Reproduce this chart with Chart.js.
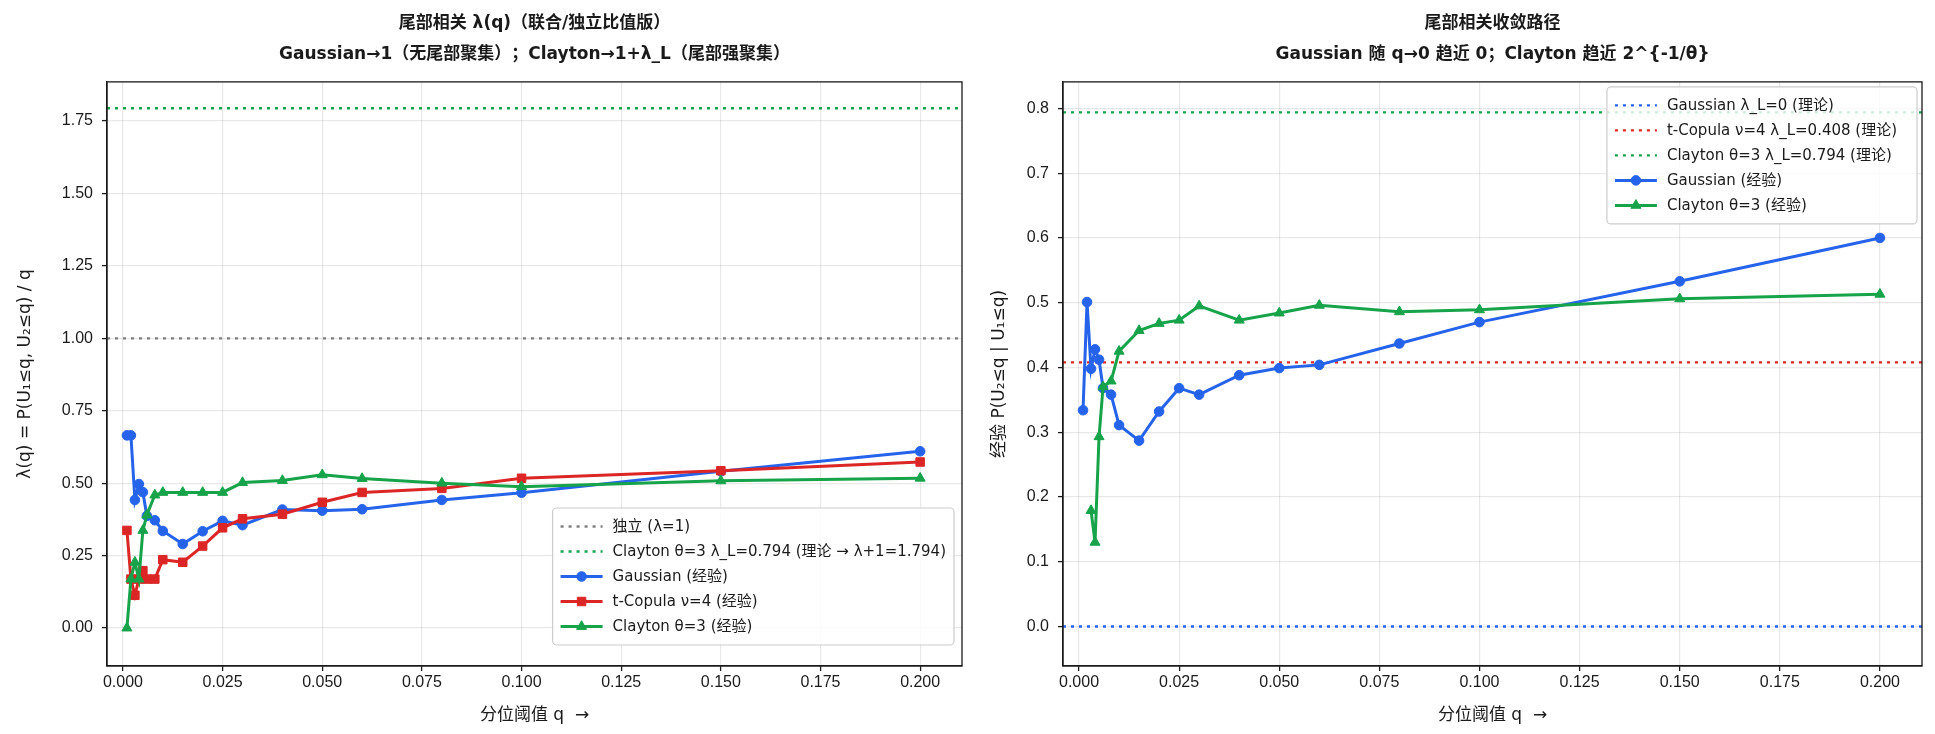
<!DOCTYPE html>
<html>
<head>
<meta charset="utf-8">
<script src="https://cdn.jsdelivr.net/npm/chart.js@4.4.1/dist/chart.umd.min.js"></script>
<style>
  html, body { margin: 0; padding: 0; background: #fff; }
  body { width: 1935px; height: 734px; position: relative; overflow: hidden; }
  #wrapL { position: absolute; left: 0; top: 0; }
  #wrapR { position: absolute; left: 985px; top: 0; }
</style>
</head>
<body>
<div id="wrapL"><canvas id="ratioChart" width="985" height="734"></canvas></div>
<div id="wrapR"><canvas id="convChart" width="950" height="734"></canvas></div>
<script>
/* ===================== DATA ===================== */
const Q = [0.001, 0.002, 0.003, 0.004, 0.005, 0.006, 0.008, 0.010, 0.015, 0.020,
           0.025, 0.030, 0.040, 0.050, 0.060, 0.080, 0.100, 0.150, 0.200];

// left: lambda(q) = P(U1<=q, U2<=q) / q
const GAUSS_RATIO   = [0.665, 0.665, 0.442, 0.497, 0.469, 0.387, 0.372, 0.335, 0.290, 0.334,
                       0.370, 0.355, 0.409, 0.405, 0.410, 0.442, 0.467, 0.541, 0.610];
const TCOP_RATIO    = [0.337, 0.169, 0.113, 0.169, 0.198, 0.169, 0.169, 0.236, 0.227, 0.283,
                       0.346, 0.377, 0.393, 0.434, 0.468, 0.482, 0.517, 0.543, 0.573];
const CLAYTON_RATIO = [0.000, 0.169, 0.227, 0.169, 0.337, 0.390, 0.459, 0.468, 0.468, 0.468,
                       0.468, 0.502, 0.509, 0.529, 0.516, 0.500, 0.488, 0.508, 0.517];

// right: P(U2<=q | U1<=q)
const GAUSS_COND   = [0.334, 0.501, 0.398, 0.428, 0.412, 0.368, 0.358, 0.311, 0.287, 0.332,
                      0.368, 0.358, 0.388, 0.399, 0.404, 0.437, 0.470, 0.533, 0.600];
const CLAYTON_COND = [null, null, 0.179, 0.130, 0.293, 0.370, 0.379, 0.425, 0.457, 0.468,
                      0.473, 0.495, 0.473, 0.484, 0.496, 0.486, 0.489, 0.506, 0.513];

// theory levels
const INDEP_LEVEL = 1;
const CLAYTON_RATIO_LEVEL = 1.794;
const GAUSS_LAMBDA_L = 0;
const TCOP_LAMBDA_L = 0.408;
const CLAYTON_LAMBDA_L = 0.794;

// axes
const X_MIN = -0.004, X_MAX = 0.2105;
const X_TICKS = [0, 0.025, 0.05, 0.075, 0.1, 0.125, 0.15, 0.175, 0.2];
const Y_LEFT_MIN = -0.131, Y_LEFT_MAX = 1.885;
const Y_LEFT_TICKS = [0, 0.25, 0.5, 0.75, 1, 1.25, 1.5, 1.75];
const Y_RIGHT_MIN = -0.061, Y_RIGHT_MAX = 0.841;
const Y_RIGHT_TICKS = [0, 0.1, 0.2, 0.3, 0.4, 0.5, 0.6, 0.7, 0.8];

/* ===================== STYLE ===================== */
const TICK_FONT = "'Liberation Sans', 'Noto Sans CJK SC', sans-serif";
const TEXT_FONT = "'DejaVu Sans', 'Noto Sans CJK SC', sans-serif";
const BLUE = "#2563eb", RED = "#dc2626", GREEN = "#16a34a", GRAY = "#7f7f7f";
const INK = "#1a1a1a";
const GRID = "rgba(0,0,0,0.09)";
const TICK_SIZE = 16, LEGEND_SIZE = 15, TITLE_SIZE = 17, AXIS_TITLE_SIZE = 17;

/* ===================== PLUGINS ===================== */
// full box round the plot area (matplotlib spines)
const frame = {
  id: "frame",
  afterDraw(chart) {
    const a = chart.chartArea, ctx = chart.ctx;
    ctx.save();
    ctx.strokeStyle = INK;
    ctx.lineWidth = 1.3;
    ctx.strokeRect(a.left, a.top, a.right - a.left, a.bottom - a.top);
    ctx.restore();
  }
};

// legend drawn inside the plot area
const insideLegend = {
  id: "insideLegend",
  afterDraw(chart, args, opts) {
    const ctx = chart.ctx, a = chart.chartArea;
    const sets = chart.data.datasets;
    ctx.save();
    ctx.font = `${LEGEND_SIZE}px ${TEXT_FONT}`;
    const textW = Math.max(...sets.map(d => ctx.measureText(d.label).width));
    const rowH = 25, padX = 8, padY = 6, handleW = 42, gap = 10;
    const w = padX + handleW + gap + textW + padX + opts.extra;
    const h = padY * 2 + rowH * sets.length;
    const x = a.right - opts.right - w;
    const y = opts.corner === "lower" ? a.bottom - opts.bottom - h : a.top + opts.top;

    ctx.beginPath();
    ctx.roundRect(x, y, w, h, 4);
    ctx.fillStyle = "rgba(255,255,255,0.8)";
    ctx.fill();
    ctx.strokeStyle = "#cccccc";
    ctx.lineWidth = 1.2;
    ctx.stroke();

    sets.forEach((d, i) => {
      const cy = y + padY + rowH * i + rowH / 2;
      const x0 = x + padX, x1 = x0 + handleW;
      ctx.beginPath();
      ctx.setLineDash(d.borderDash || []);
      ctx.strokeStyle = d.borderColor;
      ctx.lineWidth = d.borderWidth;
      ctx.moveTo(x0, cy);
      ctx.lineTo(x1, cy);
      ctx.stroke();
      ctx.setLineDash([]);
      if (d.pointRadius > 0) {
        ctx.fillStyle = d.borderColor;
        ctx.strokeStyle = d.borderColor;
        ctx.lineWidth = 1;
        Chart.helpers.drawPoint(ctx, { pointStyle: d.pointStyle, radius: d.pointRadius, rotation: 0, borderWidth: 1 },
          (x0 + x1) / 2, cy);
      }
      ctx.fillStyle = INK;
      ctx.textBaseline = "middle";
      ctx.textAlign = "left";
      ctx.fillText(d.label, x1 + gap, cy + 1);
    });
    ctx.restore();
  }
};

/* ===================== DATASETS ===================== */
function refLine(label, level, color, order) {
  return {
    label,
    data: [{ x: X_MIN, y: level }, { x: X_MAX, y: level }],
    borderColor: color,
    backgroundColor: color,
    borderWidth: 2.3,
    borderDash: [3, 5],
    pointRadius: 0,
    order
  };
}

function empLine(label, values, color, style, radius, order) {
  return {
    label,
    data: Q.map((q, i) => ({ x: q, y: values[i] })),
    borderColor: color,
    backgroundColor: color,
    borderWidth: 3,
    pointStyle: style,
    pointRadius: radius,
    pointBorderWidth: 1,
    tension: 0,
    order
  };
}

/* ===================== COMMON OPTIONS ===================== */
function chartOptions(cfg) {
  const tickFont = { family: TICK_FONT, size: TICK_SIZE };
  return {
    responsive: false,
    animation: false,
    events: [],
    layout: { padding: { left: 0, right: cfg.padRight, top: 0, bottom: 0 } },
    plugins: {
      legend: { display: false },
      tooltip: { enabled: false },
      title: {
        display: true,
        text: cfg.title,
        color: INK,
        fullSize: false,
        font: { family: TEXT_FONT, size: TITLE_SIZE, weight: "bold", lineHeight: 1.82 },
        padding: { top: 8, bottom: 12 }
      },
      insideLegend: cfg.legend
    },
    scales: {
      x: {
        type: "linear",
        min: X_MIN,
        max: X_MAX,
        afterBuildTicks: s => { s.ticks = X_TICKS.map(v => ({ value: v })); },
        afterFit: s => { s.height = 68; },
        ticks: {
          color: INK, font: tickFont, padding: 2, autoSkip: false, maxRotation: 0,
          callback: v => v.toFixed(3)
        },
        grid: { color: GRID, lineWidth: 1.2, tickColor: INK, tickLength: 5, tickWidth: 1.3 },
        border: { color: INK, width: 1.3 },
        title: {
          display: true, text: "分位阈值 q  →", color: INK,
          font: { family: TEXT_FONT, size: AXIS_TITLE_SIZE }, padding: { top: 8, bottom: 8 }
        }
      },
      y: {
        type: "linear",
        min: cfg.yMin,
        max: cfg.yMax,
        afterBuildTicks: s => { s.ticks = cfg.yTicks.map(v => ({ value: v })); },
        afterFit: s => { s.width = cfg.yWidth; },
        ticks: {
          color: INK, font: tickFont, padding: 9, autoSkip: false,
          callback: v => v.toFixed(cfg.yDigits)
        },
        grid: { color: GRID, lineWidth: 1.2, tickColor: INK, tickLength: 5, tickWidth: 1.3 },
        border: { color: INK, width: 1.3 },
        title: {
          display: true, text: cfg.yTitle, color: INK,
          font: { family: TEXT_FONT, size: AXIS_TITLE_SIZE }, padding: { top: cfg.yTitlePad, bottom: 0 }
        }
      }
    }
  };
}

/* ===================== LEFT: RATIO ===================== */
new Chart(document.getElementById("ratioChart"), {
  type: "line",
  data: {
    datasets: [
      refLine("独立 (λ=1)", INDEP_LEVEL, GRAY, 5),
      refLine("Clayton θ=3 λ_L=0.794 (理论 → λ+1=1.794)", CLAYTON_RATIO_LEVEL, GREEN, 4),
      empLine("Gaussian (经验)", GAUSS_RATIO, BLUE, "circle", 4.8, 3),
      empLine("t-Copula ν=4 (经验)", TCOP_RATIO, RED, "rect", 6, 2),
      empLine("Clayton θ=3 (经验)", CLAYTON_RATIO, GREEN, "triangle", 5.8, 1)
    ]
  },
  options: chartOptions({
    title: ["尾部相关 λ(q)（联合/独立比值版）", "Gaussian→1（无尾部聚集）；Clayton→1+λ_L（尾部强聚集）"],
    yMin: Y_LEFT_MIN, yMax: Y_LEFT_MAX, yTicks: Y_LEFT_TICKS, yDigits: 2,
    yTitle: "λ(q) = P(U₁≤q, U₂≤q) / q", yWidth: 107, yTitlePad: 15,
    padRight: 23, legend: { corner: "lower", right: 8, bottom: 21, extra: 0 }
  }),
  plugins: [frame, insideLegend]
});

/* ===================== RIGHT: CONVERGENCE ===================== */
new Chart(document.getElementById("convChart"), {
  type: "line",
  data: {
    datasets: [
      refLine("Gaussian λ_L=0 (理论)", GAUSS_LAMBDA_L, BLUE, 5),
      refLine("t-Copula ν=4 λ_L=0.408 (理论)", TCOP_LAMBDA_L, RED, 4),
      refLine("Clayton θ=3 λ_L=0.794 (理论)", CLAYTON_LAMBDA_L, GREEN, 3),
      empLine("Gaussian (经验)", GAUSS_COND, BLUE, "circle", 4.8, 2),
      empLine("Clayton θ=3 (经验)", CLAYTON_COND, GREEN, "triangle", 5.8, 1)
    ]
  },
  options: chartOptions({
    title: ["尾部相关收敛路径", "Gaussian 随 q→0 趋近 0；Clayton 趋近 2^{-1/θ}"],
    yMin: Y_RIGHT_MIN, yMax: Y_RIGHT_MAX, yTicks: Y_RIGHT_TICKS, yDigits: 1,
    yTitle: "经验 P(U₂≤q | U₁≤q)", yWidth: 78, yTitlePad: 4,
    padRight: 13, legend: { corner: "upper", right: 5, top: 5, extra: 12 }
  }),
  plugins: [frame, insideLegend]
});
</script>
</body>
</html>
